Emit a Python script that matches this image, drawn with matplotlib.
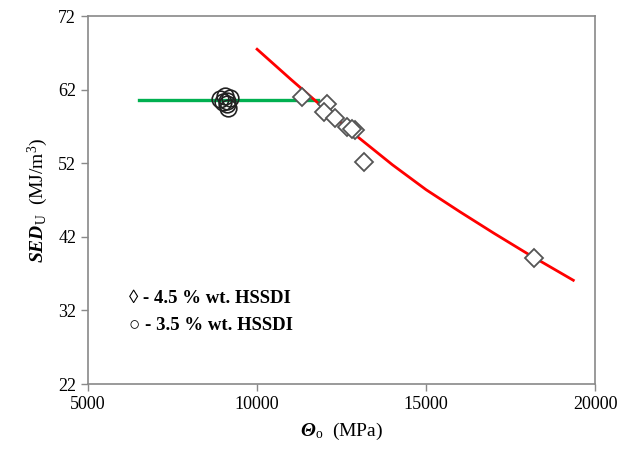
import matplotlib.pyplot as plt

plt.rcParams['font.family'] = ['Liberation Serif', 'DejaVu Serif']
plt.rcParams['mathtext.fontset'] = 'custom'
plt.rcParams['mathtext.rm'] = 'Liberation Serif'
plt.rcParams['mathtext.it'] = 'Liberation Serif:italic'
plt.rcParams['mathtext.bf'] = 'Liberation Serif:bold'
plt.rcParams['mathtext.bfit'] = 'Liberation Serif:italic:bold'

# 4.5 % wt. HSSDI (diamonds)
hs45_mod = [11330, 12070, 11990, 12310, 12650, 12900, 12820, 13150, 18180]
hs45_sed = [61.0, 60.1, 59.0, 58.1, 56.9, 56.5, 56.7, 52.2, 39.1]

# 3.5 % wt. HSSDI (circles)
hs35_mod = [8900, 9000, 9100, 9150, 9200, 9050, 9100]
hs35_sed = [60.8, 60.3, 60.0, 59.5, 60.9, 61.2, 60.4]

# fitted curves
green_mod = [6500, 11800]
green_sed = [60.6, 60.6]
red_mod = [10000, 11000, 12000, 13000, 14000, 15000, 16000, 17000, 18000, 19350]
red_sed = [67.5, 63.4, 59.4, 55.5, 51.8, 48.4, 45.4, 42.5, 39.7, 36.1]

fig, ax = plt.subplots(figsize=(6.24, 4.61), dpi=100)
fig.subplots_adjust(left=0.141, right=0.954, top=0.965, bottom=0.167)

ax.plot(green_mod, green_sed, color='#00B050', lw=2.4, zorder=2)
ax.plot(red_mod, red_sed, color='#FF0000', lw=2.0, zorder=2)
ax.plot(hs35_mod, hs35_sed, 'o', ms=12, mfc='none', mec='#222222', mew=1.2, zorder=3)
ax.plot(hs45_mod, hs45_sed, 'D', ms=9, mfc='white', mec='#555555', mew=1.3, zorder=4)

ax.set_xlim(5000, 20000)
ax.set_ylim(22, 72)
ax.set_xticks([5000, 10000, 15000, 20000])
ax.set_yticks([22, 32, 42, 52, 62, 72])
ax.tick_params(labelsize=13, color='#898989', length=5, width=1, direction='out')
for s in ax.spines.values():
    s.set_color('#898989')
    s.set_linewidth(1.2)

ax.set_xlabel(r'$\mathbfit{\Theta}_{\mathrm{o}}$  (MPa)', fontsize=14, labelpad=6)
ax.set_ylabel(r'$\mathbfit{SED}_{\mathrm{U}}$  (MJ/m$^{3}$)', fontsize=14, labelpad=6)

ax.text(0.08, 0.232, '\u25ca - 4.5 % wt. HSSDI', transform=ax.transAxes,
        fontsize=13.5, fontweight='bold', va='center')
ax.text(0.08, 0.158, '\u25cb - 3.5 % wt. HSSDI', transform=ax.transAxes,
        fontsize=13.5, fontweight='bold', va='center')

fig.savefig('out.png', dpi=100)
